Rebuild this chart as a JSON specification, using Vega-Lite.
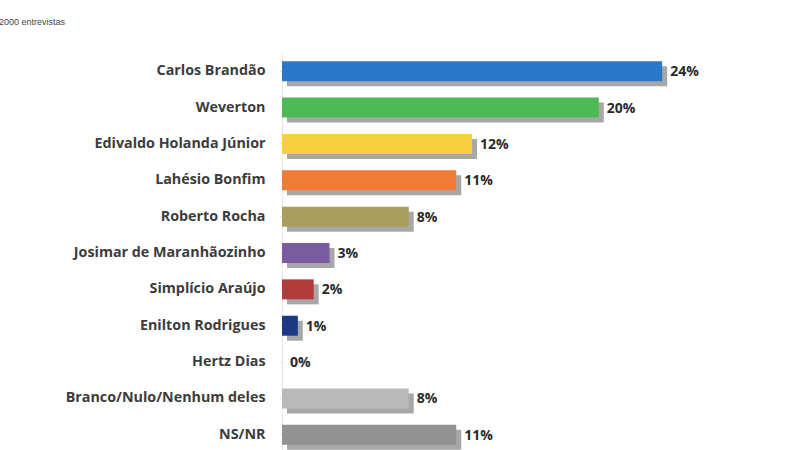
{
  "$schema": "https://vega.github.io/schema/vega-lite/v6.json",
  "width": 518,
  "height": 400,
  "autosize": "none",
  "padding": {"left": 282, "top": 53, "right": 0, "bottom": 0},
  "background": "white",
  "config": {"view": {"stroke": null}},
  "title": {
    "text": "2000 entrevistas",
    "anchor": "start",
    "frame": "group",
    "dx": -283,
    "offset": 26,
    "fontSize": 9,
    "font": "Liberation Sans",
    "fontWeight": "normal",
    "color": "#444444"
  },
  "data": {
    "values": [
      {"nome": "Carlos Brandão", "pct": 24, "cor": "#2a78c9"},
      {"nome": "Weverton", "pct": 20, "cor": "#4dbb55"},
      {"nome": "Edivaldo Holanda Júnior", "pct": 12, "cor": "#f8cf40"},
      {"nome": "Lahésio Bonfim", "pct": 11, "cor": "#f07b35"},
      {"nome": "Roberto Rocha", "pct": 8, "cor": "#aa9d5e"},
      {"nome": "Josimar de Maranhãozinho", "pct": 3, "cor": "#7a5ba0"},
      {"nome": "Simplício Araújo", "pct": 2, "cor": "#b23a3a"},
      {"nome": "Enilton Rodrigues", "pct": 1, "cor": "#1c3a84"},
      {"nome": "Hertz Dias", "pct": 0, "cor": "#999999"},
      {"nome": "Branco/Nulo/Nenhum deles", "pct": 8, "cor": "#b9b9b9"},
      {"nome": "NS/NR", "pct": 11, "cor": "#929292"}
    ]
  },
  "transform": [{"calculate": "datum.pct + '%'", "as": "rotulo"}],
  "encoding": {
    "y": {
      "field": "nome",
      "type": "nominal",
      "sort": null,
      "scale": {
        "domain": ["Carlos Brandão", "Weverton", "Edivaldo Holanda Júnior", "Lahésio Bonfim", "Roberto Rocha", "Josimar de Maranhãozinho", "Simplício Araújo", "Enilton Rodrigues", "Hertz Dias", "Branco/Nulo/Nenhum deles", "NS/NR"],
        "paddingInner": 0.45,
        "paddingOuter": 0.225
      },
      "axis": {
        "title": null,
        "domainColor": "#e6e6e6",
        "tickColor": "#e6e6e6",
        "tickSize": 3,
        "labelPadding": 14,
        "labelFont": "Open Sans",
        "labelFontWeight": "bold",
        "labelFontSize": 14.3,
        "labelColor": "#3c3c3c",
        "labelLimit": 300
      }
    },
    "x": {
      "field": "pct",
      "type": "quantitative",
      "scale": {"domain": [0, 32.7], "nice": false},
      "axis": null
    }
  },
  "layer": [
    {
      "transform": [{"filter": "datum.pct > 0"}],
      "mark": {"type": "bar", "xOffset": 5, "yOffset": 5, "color": "#8a8a8a", "opacity": 0.75},
      "encoding": {}
    },
    {
      "transform": [{"filter": "datum.pct > 0"}],
      "mark": {"type": "bar"},
      "encoding": {
        "color": {"field": "cor", "type": "nominal", "scale": null}
      }
    },
    {
      "mark": {
        "type": "text",
        "align": "left",
        "baseline": "middle",
        "dx": 8,
        "dy": 1,
        "font": "Open Sans",
        "fontWeight": "bold",
        "fontSize": 14,
        "color": "#2a2a2a"
      },
      "encoding": {
        "text": {"field": "rotulo", "type": "nominal"}
      }
    }
  ]
}
